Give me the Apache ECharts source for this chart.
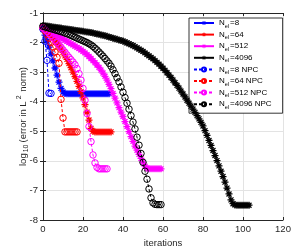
<!DOCTYPE html>
<html><head><meta charset="utf-8">
<script src="https://cdn.jsdelivr.net/npm/echarts@6/dist/echarts.min.js"></script>
<style>html,body{margin:0;padding:0;background:#fff}#c{width:299px;height:249px}</style>
</head><body><div id="c"></div>
<script>
// ---- data (index = iteration number, starting at 0) ----
const xMin = 0, xMax = 120, xStep = 20;
const yMin = -8, yMax = -1, yStep = 1;
const seriesNames = ['N_el=8','N_el=64','N_el=512','N_el=4096','N_el=8 NPC','N_el=64 NPC','N_el=512 NPC','N_el=4096 NPC'];

const nel8 = [-1.55,-1.75,-1.95,-2.15,-2.38,-2.62,-2.86,-3.10,-3.34,-3.55,-3.67,-3.72,
  -3.73,-3.73,-3.73,-3.73,-3.73,-3.73,-3.73,-3.73,-3.73,-3.73,-3.73,-3.73,-3.73,-3.73,-3.73,-3.73,-3.73,-3.73,-3.73,-3.73,-3.73,-3.73];
const nel64 = [-1.50,-1.55,-1.60,-1.67,-1.75,-1.83,-1.92,-2.02,-2.12,-2.22,-2.33,-2.45,-2.57,-2.71,-2.85,-3.00,-3.15,-3.31,-3.48,-3.66,-3.87,-4.10,-4.35,-4.62,-4.90,-5.00,
  -5.02,-5.02,-5.02,-5.02,-5.02,-5.02,-5.02,-5.02,-5.02];
const nel512 = [-1.50,-1.53,-1.57,-1.60,-1.64,-1.68,-1.72,-1.76,-1.80,-1.84,-1.88,-1.92,-1.96,-2.00,-2.04,-2.08,-2.12,-2.16,-2.20,-2.25,
  -2.30,-2.35,-2.41,-2.47,-2.54,-2.61,-2.68,-2.76,-2.84,-2.93,-3.03,-3.14,-3.27,-3.41,-3.56,-3.72,-3.88,-4.04,-4.20,-4.35,
  -4.50,-4.67,-4.84,-5.01,-5.18,-5.34,-5.50,-5.64,-5.78,-5.92,-6.06,-6.18,-6.25,-6.27,-6.27,-6.27,-6.27,-6.27,-6.27,-6.27];
const nel4096 = [-1.42,-1.43,-1.44,-1.45,-1.46,-1.47,-1.48,-1.49,-1.50,-1.51,-1.52,-1.53,-1.54,-1.55,-1.56,-1.57,-1.58,-1.59,-1.60,-1.61,
  -1.62,-1.63,-1.64,-1.65,-1.66,-1.68,-1.69,-1.71,-1.72,-1.74,-1.75,-1.77,-1.79,-1.81,-1.83,-1.85,-1.87,-1.89,-1.91,-1.93,
  -1.95,-1.98,-2.01,-2.04,-2.07,-2.10,-2.14,-2.18,-2.22,-2.26,-2.30,-2.35,-2.40,-2.45,-2.50,-2.55,-2.61,-2.67,-2.73,-2.80,
  -2.87,-2.94,-3.02,-3.10,-3.18,-3.27,-3.36,-3.45,-3.54,-3.64,-3.74,-3.84,-3.95,-4.05,-4.15,-4.25,-4.36,-4.47,-4.58,-4.70,
  -4.82,-4.98,-5.14,-5.31,-5.48,-5.65,-5.82,-5.99,-6.17,-6.35,-6.53,-6.72,-6.92,-7.12,-7.32,-7.45,-7.49,-7.50,-7.50,-7.50,
  -7.50,-7.50,-7.50,-7.50];
const nel8Npc = [-1.55,-1.95,-2.60,-3.71,-3.72];
const nel64Npc = [-1.50,-1.60,-1.72,-1.85,-2.00,-2.15,-2.32,-2.50,-2.70,-3.92,-4.55,-5.02,-5.02,-5.02,-5.02,-5.02,-5.02,-5.02];
const nel512Npc = [-1.50,-1.56,-1.62,-1.69,-1.76,-1.84,-1.92,-2.00,-2.08,-2.16,-2.25,-2.33,-2.42,-2.50,-2.58,-2.66,-2.75,-2.88,-3.05,-3.27,
  -3.55,-3.95,-4.40,-4.84,-5.35,-5.80,-6.07,-6.22,-6.27,-6.27,-6.27,-6.27,-6.27];
const nel4096Npc = [-1.45,-1.47,-1.49,-1.51,-1.53,-1.55,-1.57,-1.59,-1.61,-1.63,-1.65,-1.68,-1.70,-1.73,-1.76,-1.79,-1.82,-1.85,-1.88,-1.91,
  -1.94,-1.97,-2.00,-2.04,-2.08,-2.13,-2.19,-2.25,-2.32,-2.39,-2.46,-2.54,-2.62,-2.70,-2.80,-2.92,-3.05,-3.19,-3.33,-3.50,
  -3.68,-3.86,-4.05,-4.25,-4.47,-4.69,-4.92,-5.20,-5.47,-5.75,-6.05,-6.35,-6.62,-6.95,-7.25,-7.42,-7.47,-7.48,-7.48,-7.48];

const seriesValues = [nel8, nel64, nel512, nel4096, nel8Npc, nel64Npc, nel512Npc, nel4096Npc];
const seriesColors = ['#0000ff','#ff0000','#ff00ff','#000000','#0000ff','#ff0000','#ff00ff','#000000'];

// ---- styling ----
const STAR = 'path://M4.1 0H5.9V10H4.1Z M0 4.1H10V5.9H0Z M0.823 2.097L2.097 0.823L9.177 7.903L7.903 9.177Z M7.903 0.823L9.177 2.097L2.097 9.177L0.823 7.903Z';
const FONT = 'Liberation Sans, Arial, Helvetica, sans-serif';
const AX = '#262626';

function makeSeries(i) {
  const npc = i >= 4;
  const c = seriesColors[i];
  return {
    name: seriesNames[i],
    type: 'line',
    data: seriesValues[i].map((v, k) => [k, v]),
    symbol: npc ? 'circle' : STAR,
    symbolSize: npc ? 6.5 : 7,
    showSymbol: true,
    lineStyle: { color: c, width: 1, type: npc ? [3, 2] : 'solid' },
    itemStyle: npc ? { color: 'rgba(255,255,255,0)', borderColor: c, borderWidth: 1 } : { color: c, borderWidth: 0 },
    emphasis: { disabled: true },
    z: 2 + i
  };
}

const chart = echarts.init(document.getElementById('c'), null, { renderer: 'canvas' });
const axisCommon = {
  type: 'value',
  axisLine: { show: true, lineStyle: { color: AX, width: 1 } },
  axisTick: { show: true, inside: true, length: 3, lineStyle: { color: AX } },
  splitLine: { show: false }
};
chart.setOption({
  animation: false,
  backgroundColor: '#fff',
  textStyle: { fontFamily: FONT },
  grid: { left: 43, right: 16, top: 13, bottom: 29, containLabel: false, outerBoundsMode: 'none' },
  xAxis: [
    Object.assign({}, axisCommon, {
      min: xMin, max: xMax, interval: xStep, position: 'bottom',
      axisLabel: { color: AX, fontSize: 9.5, margin: 4, fontFamily: FONT },
      splitLine: { show: true, lineStyle: { color: '#e3e3e3', width: 1 } },
      name: 'iterations', nameLocation: 'middle', nameGap: 18, nameMoveOverlap: false,
      nameTextStyle: { color: AX, fontSize: 9.5, fontFamily: FONT }
    }),
    Object.assign({}, axisCommon, {
      min: xMin, max: xMax, interval: xStep, position: 'top', axisLabel: { show: false }
    })
  ],
  yAxis: [
    Object.assign({}, axisCommon, {
      min: yMin, max: yMax, interval: yStep, position: 'left',
      axisLabel: { color: AX, fontSize: 9.5, margin: 5, fontFamily: FONT },
      splitLine: { show: true, lineStyle: { color: '#e3e3e3', width: 1 } },
      name: '{a|log}{s|10}{a|(error in L}{p|2}{a| norm)}',
      nameLocation: 'middle', nameGap: 13, nameRotate: 90, nameMoveOverlap: false,
      nameTextStyle: {
        color: AX, fontSize: 9.5, fontFamily: FONT,
        rich: {
          a: { fontSize: 9.5, lineHeight: 14, verticalAlign: 'middle', color: AX, fontFamily: FONT },
          s: { fontSize: 7, lineHeight: 8, verticalAlign: 'bottom', color: AX, fontFamily: FONT, padding: [0, 2, 0, 1] },
          p: { fontSize: 7, lineHeight: 8, verticalAlign: 'top', color: AX, fontFamily: FONT, padding: [0, 1, 0, 2] }
        }
      }
    }),
    Object.assign({}, axisCommon, {
      min: yMin, max: yMax, interval: yStep, position: 'right', axisLabel: { show: false }
    })
  ],
  legend: {
    data: seriesNames,
    orient: 'vertical',
    left: 189, top: 18,
    backgroundColor: '#fff',
    borderColor: '#000', borderWidth: 0.8,
    padding: [1, 11, 3, 4],
    itemWidth: 20, itemHeight: 5, itemGap: 1.6,
    selectedMode: false,
    formatter: function (name) {
      const rest = name.replace('N_el', '');
      return '{m|N}{s|el}{m|' + rest + '}';
    },
    textStyle: {
      fontFamily: FONT, fontSize: 8, color: '#000',
      rich: {
        m: { fontSize: 8, lineHeight: 12, verticalAlign: 'middle', color: '#000', fontFamily: FONT },
        s: { fontSize: 5.5, lineHeight: 6, verticalAlign: 'bottom', color: '#000', fontFamily: FONT, padding: [0, 1, 0, 0] }
      }
    }
  },
  series: seriesNames.map((n, i) => makeSeries(i))
});
</script></body></html>
